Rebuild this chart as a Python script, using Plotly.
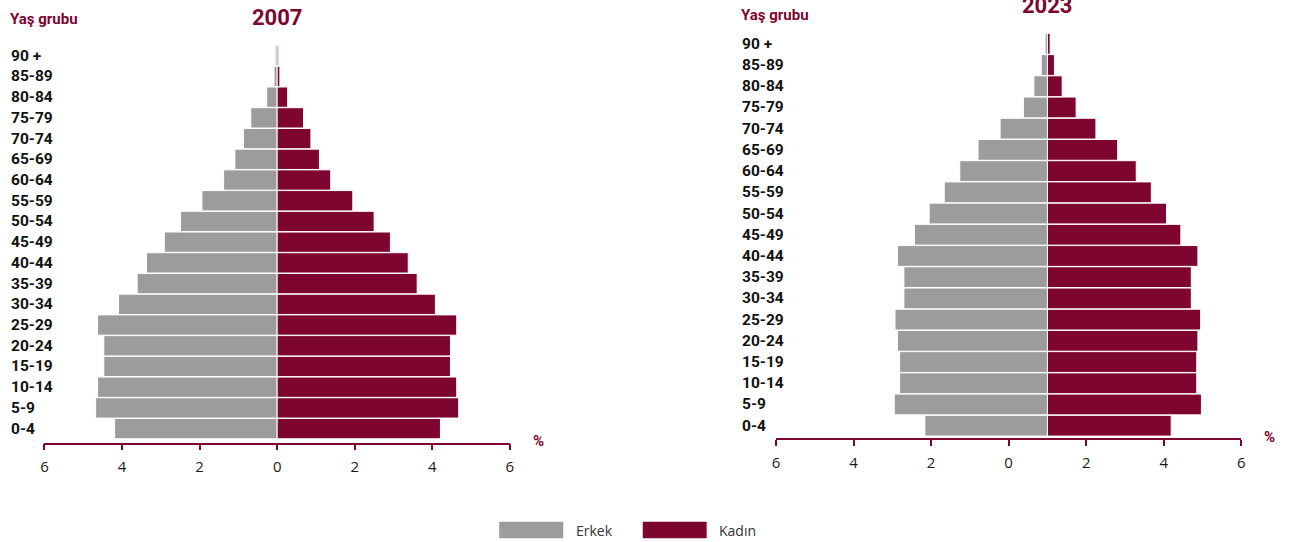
import plotly.graph_objects as go

# ---------------- data ----------------
age_groups = ["0-4", "5-9", "10-14", "15-19", "20-24", "25-29", "30-34", "35-39",
              "40-44", "45-49", "50-54", "55-59", "60-64", "65-69", "70-74",
              "75-79", "80-84", "85-89", "90 +"]

male_2007 = [4.19, 4.68, 4.63, 4.47, 4.47, 4.63, 4.09, 3.61, 3.37, 2.91,
             2.49, 1.94, 1.38, 1.09, 0.87, 0.68, 0.27, 0.08, 0.05]
female_2007 = [4.21, 4.68, 4.63, 4.47, 4.47, 4.63, 4.08, 3.61, 3.38, 2.92,
               2.50, 1.95, 1.38, 1.09, 0.87, 0.68, 0.27, 0.07, 0.04]

male_2023 = [3.16, 3.95, 3.81, 3.81, 3.87, 3.93, 3.70, 3.70, 3.87, 3.43,
             3.05, 2.66, 2.26, 1.79, 1.22, 0.62, 0.35, 0.16, 0.06]
female_2023 = [3.19, 3.97, 3.85, 3.85, 3.88, 3.95, 3.71, 3.71, 3.88, 3.44,
               3.07, 2.68, 2.29, 1.81, 1.25, 0.74, 0.38, 0.18, 0.07]

years = ["2007", "2023"]
series_names = ["Erkek", "Kadın"]
x_tick_values = [-6, -4, -2, 0, 2, 4, 6]
x_tick_labels = ["6", "4", "2", "0", "2", "4", "6"]

# ---------------- style ----------------
W, H = 1303, 542
GREY = "#9c9c9e"
MAROON = "#7d0530"
LABEL_FONT = "Roboto"
TEXT_FONT = "Open Sans"
CENTER_2023 = 1.0   # the 2023 pyramid is drawn centred at +1 on its axis, as in the source


def px_x(p):
    return p / W


def px_y(p):
    return 1 - p / H


fig = go.Figure()

neg = lambda arr: [-v for v in arr]

bar_line = dict(color="white", width=1)
fig.add_trace(go.Bar(y=age_groups, x=neg(male_2007), orientation="h", name=series_names[0],
                     marker=dict(color=GREY, line=bar_line), xaxis="x", yaxis="y",
                     showlegend=False))
fig.add_trace(go.Bar(y=age_groups, x=female_2007, orientation="h", name=series_names[1],
                     marker=dict(color=MAROON, line=bar_line), xaxis="x", yaxis="y",
                     showlegend=False))
fig.add_trace(go.Bar(y=age_groups, x=neg(male_2023), base=CENTER_2023, orientation="h",
                     name=series_names[0], marker=dict(color=GREY, line=bar_line),
                     xaxis="x2", yaxis="y2", showlegend=False))
fig.add_trace(go.Bar(y=age_groups, x=female_2023, base=CENTER_2023, orientation="h",
                     name=series_names[1], marker=dict(color=MAROON, line=bar_line),
                     xaxis="x2", yaxis="y2", showlegend=False))

xaxis_common = dict(
    range=[-6, 6], tickvals=x_tick_values, ticktext=x_tick_labels,
    showgrid=False, zeroline=False, showline=True, linecolor=MAROON, linewidth=1.5,
    ticks="outside", ticklen=6, tickwidth=1.5, tickcolor=MAROON, ticklabelstandoff=4,
    tickfont=dict(family=TEXT_FONT, size=15, color="#1a1a1a"), fixedrange=True,
)
yaxis_common = dict(type="category", categoryorder="array", categoryarray=age_groups,
                    showgrid=False, zeroline=False, showline=False, showticklabels=False,
                    ticks="", fixedrange=True)

fig.update_layout(
    width=W, height=H, margin=dict(l=0, r=0, t=0, b=0),
    paper_bgcolor="white", plot_bgcolor="white",
    barmode="overlay", bargap=0.02,
    xaxis=dict(domain=[px_x(40.7), px_x(509)], anchor="y", **xaxis_common),
    yaxis=dict(domain=[px_y(442.5), px_y(45.35)], range=[-0.67, 18.5], anchor="x", **yaxis_common),
    xaxis2=dict(domain=[px_x(776.7), px_x(1245)], anchor="y2", **xaxis_common),
    yaxis2=dict(domain=[px_y(438.2), px_y(33.2)], range=[-0.59, 18.5], anchor="x2", **yaxis_common),
    showlegend=False,
)

annotations = []
# titles
annotations.append(dict(text="<b>" + years[0] + "</b>", x=0, xref="x", y=px_y(17.2), yref="paper",
                        xanchor="center", yanchor="middle", showarrow=False,
                        font=dict(family=LABEL_FONT, size=22, color=MAROON)))
annotations.append(dict(text="<b>" + years[1] + "</b>", x=CENTER_2023, xref="x2", y=px_y(5.5),
                        yref="paper", xanchor="center", yanchor="middle", showarrow=False,
                        font=dict(family=LABEL_FONT, size=22, color=MAROON)))
# "Yaş grubu"
for xp, yp in [(4, 18.5), (740, 14.5)]:
    annotations.append(dict(text="<b>Yaş grubu</b>", x=px_x(xp), xref="paper", y=px_y(yp),
                            yref="paper", xanchor="left", yanchor="middle", showarrow=False,
                            font=dict(family=LABEL_FONT, size=15, color=MAROON)))
# age labels
for yref, xp in [("y", 5), ("y2", 741)]:
    for g in age_groups:
        annotations.append(dict(text="<b>" + g + "</b>", x=px_x(xp), xref="paper", y=g, yref=yref,
                                xanchor="left", yanchor="middle", showarrow=False,
                                font=dict(family=LABEL_FONT, size=15.5, color="#111111")))
# % labels
for xp, yp in [(537.5, 441), (1273.5, 437)]:
    annotations.append(dict(text="<b>%</b>", x=px_x(xp), xref="paper", y=px_y(yp), yref="paper",
                            xanchor="center", yanchor="middle", showarrow=False,
                            font=dict(family=LABEL_FONT, size=15, color=MAROON)))

# legend (custom wide swatches)
shapes = []
legend_items = [(series_names[0], GREY, 498.3, 562.7, 573.7),
                (series_names[1], MAROON, 642.7, 707.0, 717.0)]
for name, col, x0, x1, xt in legend_items:
    shapes.append(dict(type="rect", xref="paper", yref="paper", x0=px_x(x0), x1=px_x(x1),
                       y0=px_y(538.3), y1=px_y(521.7), fillcolor=col, line=dict(width=0)))
    annotations.append(dict(text=name, x=px_x(xt), xref="paper", y=px_y(530), yref="paper",
                            xanchor="left", yanchor="middle", showarrow=False,
                            font=dict(family=TEXT_FONT, size=14, color="#333333")))

fig.update_layout(annotations=annotations, shapes=shapes)

post_js = ("document.documentElement.style.margin='0';document.body.style.margin='0';"
           "document.body.style.padding='0';document.body.style.overflow='hidden';")

fig.write_html("out.html", post_script=post_js, config={"displayModeBar": False})
